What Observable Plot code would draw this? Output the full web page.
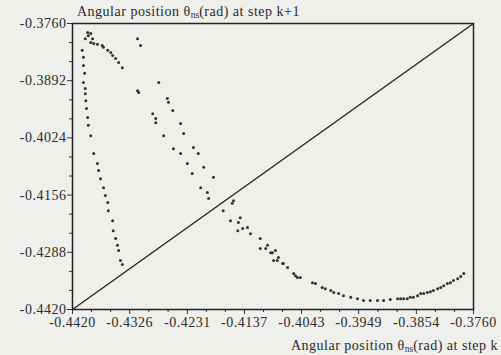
<!DOCTYPE html>
<html>
<head>
<meta charset="utf-8">
<script src="https://cdn.jsdelivr.net/npm/d3@7"></script>
<script src="https://cdn.jsdelivr.net/npm/@observablehq/plot@0.6"></script>
<style>
  html, body { margin: 0; padding: 0; background: #efefec; }
  #wrap { position: relative; width: 501px; height: 355px; overflow: hidden; font-family: "Liberation Serif", "DejaVu Serif", serif; color: #2a2a2a; }
  .t { position: absolute; font-size: 14px; letter-spacing: 0.5px; white-space: nowrap; line-height: 1; }
  .t sub { font-size: 9.5px; vertical-align: -2px; letter-spacing: 0; }
  svg text { letter-spacing: 0.5px; }
</style>
</head>
<body>
<div id="wrap">
  <div id="chart"></div>
  <div class="t" style="left:77px; top:5px;">Angular position θ<sub>ns</sub>(rad) at step k+1</div>
  <div class="t" style="right:3px; top:339px;">Angular position θ<sub>ns</sub>(rad) at step k</div>
</div>
<script>
// Tick labels
const xTickLabels = ["-0.4420", "-0.4326", "-0.4231", "-0.4137", "-0.4043", "-0.3949", "-0.3854", "-0.3760"];
const yTickLabels = ["-0.3760", "-0.3892", "-0.4024", "-0.4156", "-0.4288", "-0.4420"];

// Left (near-vertical) branch: theta(k), theta(k+1)
const leftX = [-0.4404, -0.4402, -0.4402, -0.4400, -0.4402, -0.4399, -0.4399, -0.4398, -0.4397, -0.4395, -0.4394, -0.4390, -0.4385, -0.4379, -0.4377, -0.4374, -0.4369, -0.4366, -0.4362, -0.4361, -0.4354, -0.4353, -0.4349, -0.4346, -0.4344, -0.4341, -0.4338];
const leftY = [-0.3822, -0.3838, -0.3857, -0.3875, -0.3896, -0.3910, -0.3922, -0.3938, -0.3956, -0.3977, -0.3995, -0.4019, -0.4060, -0.4083, -0.4099, -0.4118, -0.4139, -0.4157, -0.4173, -0.4192, -0.4215, -0.4238, -0.4256, -0.4272, -0.4284, -0.4307, -0.4316];

// Top-left cluster
const topX = [-0.4399, -0.4394, -0.4390, -0.4395, -0.4387, -0.4390, -0.4385, -0.4379, -0.4371, -0.4369, -0.4362, -0.4357, -0.4354, -0.4349, -0.4344, -0.4338];
const topY = [-0.3795, -0.3788, -0.3783, -0.3781, -0.3795, -0.3804, -0.3806, -0.3808, -0.3811, -0.3815, -0.3822, -0.3827, -0.3834, -0.3841, -0.3850, -0.3862];

// Middle bands (descending part of the map)
const midX = [-0.4313, -0.4308, -0.4313, -0.4311, -0.4278, -0.4264, -0.4262, -0.4255, -0.4288, -0.4283, -0.4283, -0.4270, -0.4254, -0.4242, -0.4231, -0.4223, -0.4209, -0.4198, -0.4196, -0.4172, -0.4160, -0.4148,
              -0.4242, -0.4237, -0.4221, -0.4213, -0.4204, -0.4188, -0.4155, -0.4157, -0.4144, -0.4132, -0.4127, -0.4147, -0.4140];
const midY = [-0.3795, -0.3811, -0.3915, -0.3919, -0.3896, -0.3933, -0.3942, -0.3961, -0.3968, -0.3979, -0.3989, -0.4019, -0.4049, -0.4060, -0.4083, -0.4106, -0.4139, -0.4150, -0.4164, -0.4192, -0.4215, -0.4238,
              -0.3991, -0.4014, -0.4046, -0.4060, -0.4092, -0.4115, -0.4169, -0.4175, -0.4208, -0.4231, -0.4245, -0.4219, -0.4233];

// Lower part of the map (minimum and rising tail)
const lowX = [-0.4111, -0.4099, -0.4111, -0.4094, -0.4086, -0.4081, -0.4089, -0.4074, -0.4056, -0.4050, -0.4102, -0.4091, -0.4083, -0.4073, -0.4066, -0.4053, -0.4045,
              -0.4025, -0.4020, -0.4009, -0.4004, -0.3995, -0.3990, -0.3982, -0.3974, -0.3962, -0.3951, -0.3941, -0.3930, -0.3918, -0.3908, -0.3897, -0.3885, -0.3880, -0.3875, -0.3869,
              -0.3864, -0.3859, -0.3852, -0.3847, -0.3842, -0.3836, -0.3831, -0.3826, -0.3819, -0.3814, -0.3809, -0.3803, -0.3798, -0.3793, -0.3786, -0.3781, -0.3776];
const lowY = [-0.4256, -0.4272, -0.4279, -0.4289, -0.4284, -0.4300, -0.4307, -0.4314, -0.4337, -0.4346, -0.4279, -0.4289, -0.4307, -0.4314, -0.4323, -0.4342, -0.4346,
              -0.4358, -0.4360, -0.4369, -0.4372, -0.4376, -0.4381, -0.4383, -0.4388, -0.4392, -0.4395, -0.4399, -0.4399, -0.4399, -0.4399, -0.4397, -0.4395, -0.4395, -0.4395, -0.4395,
              -0.4392, -0.4392, -0.4388, -0.4383, -0.4383, -0.4381, -0.4379, -0.4376, -0.4372, -0.4369, -0.4365, -0.4360, -0.4358, -0.4353, -0.4349, -0.4344, -0.4337];

const points = [];
[[leftX, leftY], [topX, topY], [midX, midY], [lowX, lowY]].forEach(([xs, ys]) => {
  xs.forEach((x, i) => points.push({x, y: ys[i]}));
});

const xTicks = xTickLabels.map(Number);
const yTicks = yTickLabels.map(Number);
const minor = (ticks) => {
  const out = [];
  for (let i = 0; i < ticks.length - 1; i++) {
    const a = ticks[i], b = ticks[i + 1];
    out.push(a + (b - a) / 3, a + 2 * (b - a) / 3);
  }
  return out;
};
const lo = -0.4420, hi = -0.3760;
const diag = [{x: lo, y: lo}, {x: hi, y: hi}];

const chart = Plot.plot({
  width: 501,
  height: 355,
  marginLeft: 72,
  marginRight: 28,
  marginTop: 23,
  marginBottom: 46,
  style: {background: "transparent", fontFamily: "'Liberation Serif', 'DejaVu Serif', serif", fontSize: "14px", color: "#2a2a2a"},
  x: {domain: [lo, hi], label: null},
  y: {domain: [lo, hi], label: null},
  marks: [
    Plot.axisX({ticks: minor(xTicks), tickSize: 3, text: null, label: null, stroke: "#333"}),
    Plot.axisY({ticks: minor(yTicks), tickSize: 3, text: null, label: null, stroke: "#333"}),
    Plot.axisX({ticks: xTicks, tickSize: 5, tickPadding: 3, tickFormat: (d, i) => xTickLabels[i], label: null, stroke: "#333", fill: "#2a2a2a"}),
    Plot.axisY({ticks: yTicks, tickSize: 5, tickPadding: 1, tickFormat: (d, i) => yTickLabels[i], label: null, stroke: "#333", fill: "#2a2a2a"}),
    Plot.line(diag, {x: "x", y: "y", stroke: "#2a2a2a", strokeWidth: 1.5}),
    Plot.dot(points, {x: "x", y: "y", r: 1.5, fill: "#333", stroke: null}),
    Plot.frame({stroke: "#222", strokeWidth: 1.5})
  ]
});
document.getElementById("chart").appendChild(chart);
</script>
</body>
</html>
